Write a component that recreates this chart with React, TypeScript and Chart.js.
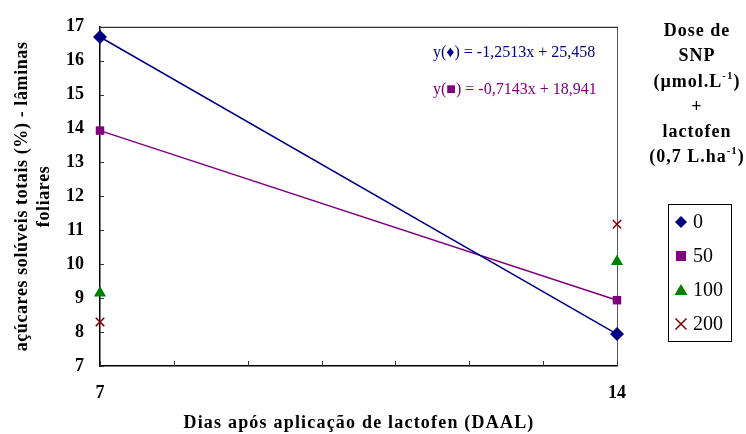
import React, { useEffect, useRef } from "react";
import { Chart, registerables } from "chart.js";

Chart.register(...registerables);

// Days after lactofen application
const days = [7, 14];
// Total soluble sugars (%) in leaf blades, per SNP dose
const dose0 = [16.7, 7.94];
const dose50 = [13.94, 8.94];
const dose100 = [9.15, 10.08];
const dose200 = [8.3, 11.18];
const doseLabels = ["0", "50", "100", "200"];
const labeledDays = [7, 14];
const equations = ["y(\u2666) = -1,2513x + 25,458", "y(\u25A0) = -0,7143x + 18,941"];
const legendTitle = ["Dose de", "SNP", "(\u00B5mol.L|-1|)", "+", "lactofen", "(0,7 L.ha|-1|)"];
const yTitle = ["a\u00E7\u00FAcares sol\u00FAveis totais (%) - l\u00E2minas", "foliares"];
const xTitle = "Dias ap\u00F3s aplica\u00E7\u00E3o de lactofen (DAAL)";

const NAVY = "#000080";
const PURPLE = "#800080";
const GREEN = "#008000";
const MAROON = "#800000";
const SERIF = "'Liberation Serif', 'Times New Roman', serif";

const pointStyles = ["rectRot", "rect", "triangle", "crossRot"] as const;
const colors = [NAVY, PURPLE, GREEN, MAROON];

function drawMarker(ctx: CanvasRenderingContext2D, style: string, x: number, y: number, color: string) {
  ctx.save();
  ctx.fillStyle = color;
  ctx.strokeStyle = color;
  ctx.beginPath();
  if (style === "rectRot") {
    ctx.moveTo(x, y - 6);
    ctx.lineTo(x + 6, y);
    ctx.lineTo(x, y + 6);
    ctx.lineTo(x - 6, y);
    ctx.closePath();
    ctx.fill();
  } else if (style === "rect") {
    ctx.rect(x - 5, y - 5, 10, 10);
    ctx.fill();
  } else if (style === "triangle") {
    ctx.moveTo(x, y - 6);
    ctx.lineTo(x + 6.5, y + 5);
    ctx.lineTo(x - 6.5, y + 5);
    ctx.closePath();
    ctx.fill();
  } else {
    ctx.lineWidth = 1.5;
    ctx.moveTo(x - 5.5, y - 5.5);
    ctx.lineTo(x + 5.5, y + 5.5);
    ctx.moveTo(x + 5.5, y - 5.5);
    ctx.lineTo(x - 5.5, y + 5.5);
    ctx.stroke();
  }
  ctx.restore();
}

// Text with "|sup|" segments rendered as superscripts, centred on cx
function drawRichCentered(ctx: CanvasRenderingContext2D, text: string, cx: number, cy: number, size: number) {
  const parts = text.split("|");
  const fonts = parts.map((_, i) => (i % 2 === 1 ? `bold ${Math.round(size * 0.6)}px ${SERIF}` : `bold ${size}px ${SERIF}`));
  let total = 0;
  const widths = parts.map((p, i) => {
    ctx.font = fonts[i];
    const w = ctx.measureText(p).width;
    total += w;
    return w;
  });
  let x = cx - total / 2;
  parts.forEach((p, i) => {
    ctx.font = fonts[i];
    ctx.fillText(p, x, i % 2 === 1 ? cy - size * 0.3 : cy);
    x += widths[i];
  });
}

const decorPlugin = {
  id: "decor",
  beforeDatasetsDraw(chart: any) {
    const { ctx, chartArea: a, scales } = chart;
    const xs = scales.x;
    const ys = scales.y;
    ctx.save();
    // plot frame
    ctx.strokeStyle = "#000";
    ctx.lineWidth = 1;
    ctx.beginPath();
    ctx.moveTo(a.left, a.top + 0.5);
    ctx.lineTo(a.right + 0.5, a.top + 0.5);
    ctx.stroke();
    ctx.strokeStyle = "#555";
    ctx.beginPath();
    ctx.moveTo(a.right + 0.5, a.top);
    ctx.lineTo(a.right + 0.5, a.bottom);
    ctx.stroke();
    // inward tick marks
    ctx.strokeStyle = "#333";
    ctx.lineWidth = 1;
    for (let v = 7; v <= 17; v++) {
      const y = Math.round(ys.getPixelForValue(v)) + 0.5;
      ctx.beginPath();
      ctx.moveTo(a.left, y);
      ctx.lineTo(a.left + 4, y);
      ctx.stroke();
    }
    for (let v = 7; v <= 14; v++) {
      const x = Math.round(xs.getPixelForValue(v)) + 0.5;
      ctx.beginPath();
      ctx.moveTo(x, a.bottom);
      ctx.lineTo(x, a.bottom - 5);
      ctx.stroke();
    }
    ctx.restore();
  },
  afterDraw(chart: any) {
    const { ctx, chartArea: a } = chart;
    ctx.save();
    ctx.textBaseline = "middle";
    ctx.fillStyle = "#000";

    // regression equations
    ctx.font = `16px ${SERIF}`;
    ctx.textAlign = "left";
    ctx.fillStyle = NAVY;
    ctx.fillText(equations[0], 433, 53);
    ctx.fillStyle = PURPLE;
    ctx.fillText(equations[1], 433, 90);

    // legend heading
    ctx.fillStyle = "#000";
    (ctx as any).letterSpacing = "1px";
    const headY = [31, 56, 82, 107, 132, 157];
    legendTitle.forEach((t, i) => drawRichCentered(ctx, t, 697, headY[i], 18));
    (ctx as any).letterSpacing = "0px";

    // legend box
    ctx.strokeStyle = "#000";
    ctx.lineWidth = 1;
    ctx.strokeRect(668.5, 204.5, 63, 137);
    ctx.font = `20px ${SERIF}`;
    ctx.textAlign = "left";
    doseLabels.forEach((lab, i) => {
      const y = 222 + i * 34;
      drawMarker(ctx, pointStyles[i], 681, y, colors[i]);
      ctx.fillStyle = "#000";
      ctx.fillText(lab, 693, y + 1);
    });

    // axis titles
    ctx.font = `bold 18px ${SERIF}`;
    ctx.textAlign = "center";
    (ctx as any).letterSpacing = "1.2px";
    ctx.fillText(xTitle, 359, 423);
    (ctx as any).letterSpacing = "0.6px";
    ctx.translate(0, (a.top + a.bottom) / 2);
    ctx.rotate(-Math.PI / 2);
    ctx.fillText(yTitle[0], 0, 22);
    ctx.fillText(yTitle[1], 0, 44);
    ctx.restore();
  },
};

export default function App() {
  const ref = useRef<HTMLCanvasElement | null>(null);

  useEffect(() => {
    if (!ref.current) return;
    const series = [dose0, dose50, dose100, dose200];
    const chart = new Chart(ref.current, {
      type: "scatter",
      data: {
        datasets: series.map((vals, i) => ({
          label: doseLabels[i],
          data: days.map((d, j) => ({ x: d, y: vals[j] })),
          showLine: i < 2,
          borderColor: colors[i],
          backgroundColor: colors[i],
          borderWidth: 1.5,
          pointStyle: pointStyles[i],
          pointRadius: i === 0 ? 7 : i === 1 ? 6 : i === 2 ? 7 : 6,
          pointBorderWidth: i === 3 ? 1.5 : 0,
          pointBackgroundColor: colors[i],
          pointBorderColor: colors[i],
          clip: false as any,
        })),
      },
      options: {
        animation: false,
        responsive: false,
        maintainAspectRatio: false,
        layout: { padding: { top: 22, right: 129, left: 0, bottom: 0 } },
        plugins: { legend: { display: false }, tooltip: { enabled: false } },
        scales: {
          x: {
            type: "linear",
            min: 7,
            max: 14,
            afterFit: (s: any) => {
              s.height = 68;
            },
            grid: { display: false, drawTicks: false },
            border: { display: true, color: "#000", width: 1.5 },
            ticks: {
              stepSize: 1,
              padding: 17,
              color: "#000",
              font: { family: SERIF, size: 18, weight: "bold" },
              autoSkip: false,
              maxRotation: 0,
              callback: (v: any) => (labeledDays.includes(Number(v)) ? String(v) : ""),
            },
          },
          y: {
            type: "linear",
            min: 7,
            max: 17,
            afterFit: (s: any) => {
              s.width = 100;
            },
            grid: { display: false, drawTicks: false },
            border: { display: true, color: "#000", width: 1.5 },
            ticks: {
              stepSize: 1,
              padding: 16,
              color: "#000",
              font: { family: SERIF, size: 18, weight: "bold" },
            },
          },
        },
      },
      plugins: [decorPlugin],
    });
    return () => chart.destroy();
  }, []);

  return (
    <div style={{ position: "fixed", left: 0, top: 0, width: 746, height: 434, background: "#fff" }}>
      <canvas ref={ref} width={746} height={434} style={{ width: 746, height: 434 }} />
    </div>
  );
}
